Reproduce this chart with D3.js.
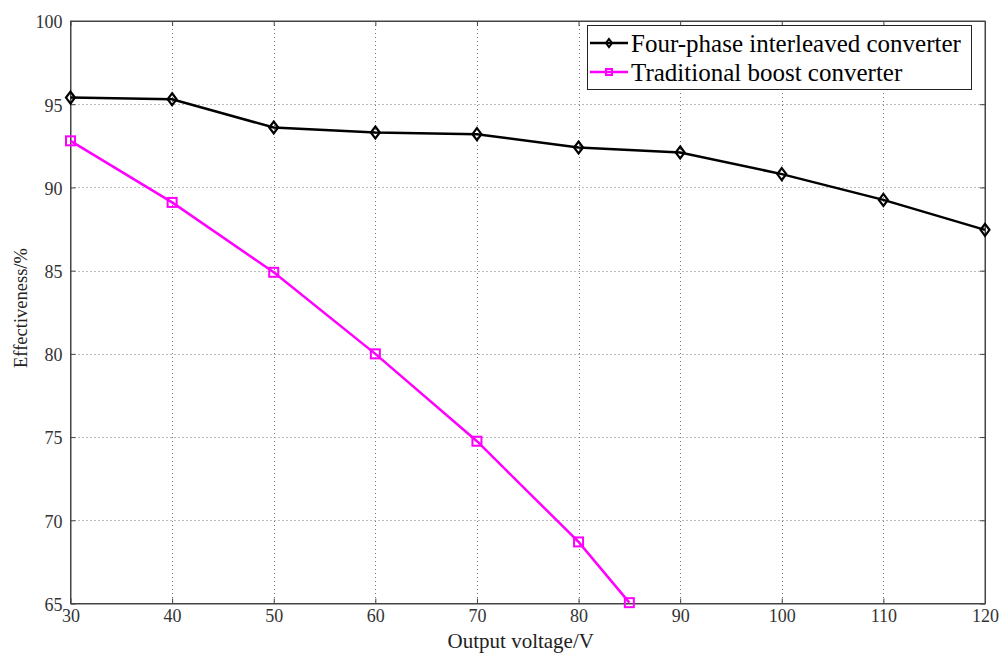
<!DOCTYPE html>
<html><head><meta charset="utf-8">
<script src="https://cdn.jsdelivr.net/npm/d3@7"></script>
<style>body{margin:0;background:#fff}svg{display:block}</style>
</head><body>
<svg id="c" width="1004" height="655"></svg>
<script>
const xTicks = [30,40,50,60,70,80,90,100,110,120];
const yTicks = [65,70,75,80,85,90,95,100];
const fourPhaseX = [30,40,50,60,70,80,90,100,110,120];
const fourPhaseY = [95.4,95.3,93.6,93.3,93.2,92.4,92.1,90.8,89.25,87.45];
const boostX = [30,40,50,60,70,80,85];
const boostY = [92.8,89.1,84.9,80.0,74.75,68.7,65.05];
const seriesNames = ["Four-phase interleaved converter","Traditional boost converter"];

const svg = d3.select("#c");
const L=70.5,R=985,T=21,B=603.5;
const x = d3.scaleLinear().domain([30,120]).range([L,R]);
const y = d3.scaleLinear().domain([65,100]).range([B,T]);
const font = "'Liberation Serif','Times New Roman',serif";

// grid
const g = svg.append("g");
g.selectAll(".gx").data(xTicks.slice(1,-1)).enter().append("line")
 .attr("x1",d=>Math.round(x(d))+0.5).attr("x2",d=>Math.round(x(d))+0.5).attr("y1",T).attr("y2",B)
 .attr("stroke","#777").attr("stroke-width",1).attr("stroke-dasharray","1,3");
g.selectAll(".gy").data(yTicks.slice(1,-1)).enter().append("line")
 .attr("y1",d=>Math.round(y(d))+0.5).attr("y2",d=>Math.round(y(d))+0.5).attr("x1",L).attr("x2",R)
 .attr("stroke","#777").attr("stroke-width",1).attr("stroke-dasharray","1,3");

// axes
const xa = d3.axisBottom(x).tickValues(xTicks).tickSizeInner(-5).tickSizeOuter(0).tickPadding(8);
const ya = d3.axisLeft(y).tickValues(yTicks).tickSizeInner(-5).tickSizeOuter(0).tickPadding(8);
const gxA = svg.append("g").attr("transform",`translate(0,${B})`).call(xa);
const gyA = svg.append("g").attr("transform",`translate(${L},0)`).call(ya);
svg.append("g").attr("transform",`translate(0,${T})`).call(d3.axisTop(x).tickValues(xTicks).tickSizeInner(-5).tickSizeOuter(0).tickFormat(""));
svg.append("g").attr("transform",`translate(${R},0)`).call(d3.axisRight(y).tickValues(yTicks).tickSizeInner(-5).tickSizeOuter(0).tickFormat(""));
svg.selectAll(".domain").attr("stroke","#444");
svg.selectAll(".tick line").attr("stroke","#444");
svg.selectAll(".tick text").attr("font-family",font).attr("font-size",18).attr("fill","#333");
gxA.selectAll(".tick text").attr("dy","0.6em");
gyA.selectAll(".tick text").attr("dy","0.38em");
svg.append("rect").attr("x",L).attr("y",T).attr("width",R-L).attr("height",B-T).attr("fill","none").attr("stroke","#444");

// labels
svg.append("text").attr("x",(L+R)/2-7).attr("y",648).attr("text-anchor","middle")
 .attr("font-family",font).attr("font-size",21).attr("fill","#222").text("Output voltage/V");
svg.append("text").attr("transform",`translate(27,${308}) rotate(-90)`).attr("text-anchor","middle")
 .attr("font-family",font).attr("font-size",18.5).attr("fill","#222").text("Effectiveness/%");

// lines
const line = d3.line().x(d=>x(d[0])).y(d=>y(d[1]));
const d1 = fourPhaseX.map((v,i)=>[v,fourPhaseY[i]]);
const d2 = boostX.map((v,i)=>[v,boostY[i]]);
svg.append("path").datum(d2).attr("d",line).attr("fill","none").attr("stroke","#ff00ff").attr("stroke-width",2.5);
svg.append("path").datum(d1).attr("d",line).attr("fill","none").attr("stroke","#000").attr("stroke-width",2.5);

const diamond = (cx,cy,s)=>`M${cx},${cy-s}L${cx+s*0.75},${cy}L${cx},${cy+s}L${cx-s*0.75},${cy}Z`;
svg.selectAll(".m2").data(d2).enter().append("rect")
 .attr("x",d=>x(d[0])-4.5).attr("y",d=>y(d[1])-4.5).attr("width",9).attr("height",9)
 .attr("fill","none").attr("stroke","#ff00ff").attr("stroke-width",2);
svg.selectAll(".m1").data(d1).enter().append("path")
 .attr("d",d=>diamond(x(d[0]),y(d[1]),6)).attr("fill","none").attr("stroke","#000").attr("stroke-width",2.2);

// legend
const lg = svg.append("g");
lg.append("rect").attr("x",587.5).attr("y",25.5).attr("width",384).attr("height",64).attr("fill","#fff").attr("stroke","#222").attr("stroke-width",1);
const rows=[{y:43,c:"#000",t:seriesNames[0],m:"d"},{y:72,c:"#ff00ff",t:seriesNames[1],m:"s"}];
rows.forEach(r=>{
  lg.append("line").attr("x1",590).attr("x2",628).attr("y1",r.y).attr("y2",r.y).attr("stroke",r.c).attr("stroke-width",2.5);
  if(r.m==="d") lg.append("path").attr("d",diamond(609,r.y,4)).attr("fill","none").attr("stroke",r.c).attr("stroke-width",2);
  else lg.append("rect").attr("x",606).attr("y",r.y-3).attr("width",6).attr("height",6).attr("fill","none").attr("stroke",r.c).attr("stroke-width",2);
  lg.append("text").attr("x",631).attr("y",r.y).attr("dy","0.35em").attr("font-family",font).attr("font-size",25).attr("fill","#000").text(r.t);
});
</script>
</body></html>
